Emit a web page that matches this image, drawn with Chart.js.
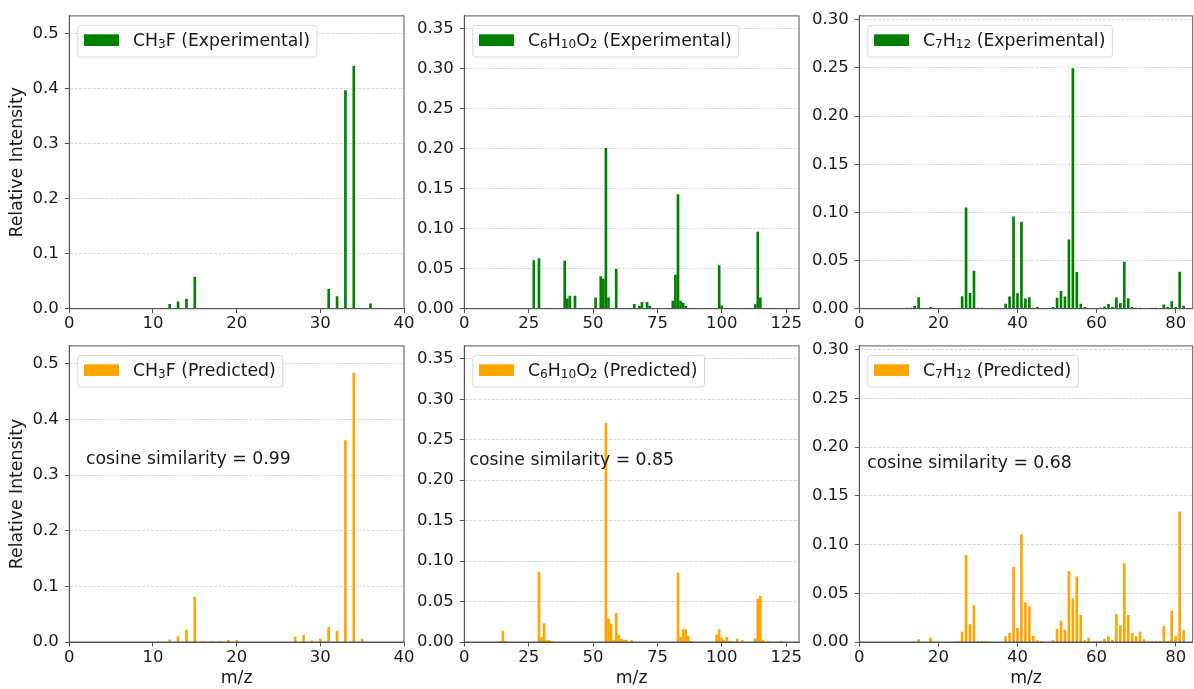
<!DOCTYPE html>
<html><head><meta charset="utf-8">
<script src="https://cdn.jsdelivr.net/npm/chart.js@4.4.0/dist/chart.umd.min.js"></script>
<style>
html,body{margin:0;padding:0;background:#fff;}
body{width:1194px;height:689px;overflow:hidden;position:relative;}
.c{position:absolute;}
</style>
</head><body>
<div id="root"></div>
<script>
// ---------- data ----------
const legendLabels = [
  'CH₃F (Experimental)', 'C₆H₁₀O₂ (Experimental)', 'C₇H₁₂ (Experimental)',
  'CH₃F (Predicted)', 'C₆H₁₀O₂ (Predicted)', 'C₇H₁₂ (Predicted)'
];
const cosineLabels = ['0.99', '0.85', '0.68'];

const mzCH3FExp  = [12,13,14,15,31,32,33,34,36];
const intCH3FExp = [0.008,0.0126,0.0173,0.0574,0.0353,0.022,0.3965,0.441,0.009];
const mzCH3FPred  = [12,13,14,15,16,17,18,19,20,27,28,29,30,31,32,33,34,35];
const intCH3FPred = [0.004,0.0096,0.0216,0.0808,0.001,0.001,0.001,0.003,0.003,0.009,0.012,0.002,0.0054,0.0257,0.0198,0.3617,0.483,0.0054];

const mzC6Exp  = [27,29,39,40,41,43,51,53,54,55,56,59,66,68,69,71,72,81,82,83,84,85,86,99,100,113,114,115];
const intC6Exp = [0.0603,0.0628,0.0595,0.0124,0.0157,0.0157,0.0136,0.040,0.037,0.2004,0.0136,0.0496,0.0054,0.003,0.008,0.008,0.003,0.0095,0.042,0.1426,0.0095,0.007,0.003,0.054,0.0037,0.005,0.0959,0.0136];
const mzC6Pred  = [14,15,16,29,30,31,32,33,34,55,56,57,58,59,60,61,62,63,65,83,84,85,86,87,88,98,99,100,101,102,103,104,106,108,113,114,115,116,118,123];
const intC6Pred = [0.0008,0.0136,0.0008,0.0864,0.0054,0.0227,0.0017,0.0017,0.0008,0.2702,0.0285,0.0223,0.0017,0.0355,0.0083,0.0033,0.0025,0.0025,0.0017,0.0855,0.0054,0.0153,0.0153,0.0074,0.0008,0.0087,0.0149,0.005,0.0017,0.0058,0.0008,0.0008,0.0037,0.0017,0.0041,0.0533,0.0566,0.0025,0.0008,0.0008];

const mzC7Exp  = [12,13,14,15,18,25,26,27,28,29,30,31,37,38,39,40,41,42,43,44,45,49,50,51,52,53,54,55,56,57,61,62,63,64,65,66,67,68,69,70,71,74,75,77,78,79,80,81,82];
const intC7Exp = [0.0007,0.0007,0.0024,0.0116,0.0014,0.0007,0.0127,0.1048,0.016,0.039,0.0007,0.0007,0.0048,0.0123,0.0955,0.0158,0.090,0.0103,0.0116,0.0007,0.0014,0.0014,0.011,0.018,0.0123,0.0716,0.2493,0.0377,0.0048,0.0014,0.0007,0.002,0.0045,0.0014,0.0113,0.0055,0.0483,0.0106,0.0014,0.0007,0.0007,0.0007,0.0007,0.0041,0.0014,0.0075,0.0014,0.038,0.0027];
const mzC7Pred  = [15,18,25,26,27,28,29,30,31,32,37,38,39,40,41,42,43,44,45,46,49,50,51,52,53,54,55,56,57,58,60,61,62,63,64,65,66,67,68,69,70,71,72,73,74,75,76,77,78,79,80,81,82];
const intC7Pred = [0.0024,0.0041,0.0007,0.0103,0.089,0.0178,0.0373,0.0007,0.0007,0.0007,0.0055,0.0092,0.0767,0.0144,0.11,0.0404,0.036,0.0062,0.0014,0.0007,0.0014,0.013,0.0216,0.0123,0.0723,0.0442,0.0668,0.0274,0.0014,0.0041,0.0007,0.0007,0.0027,0.0055,0.002,0.0284,0.0168,0.0805,0.0274,0.0092,0.0058,0.0103,0.0024,0.0007,0.0007,0.0007,0.0007,0.0158,0.0007,0.0318,0.0055,0.1336,0.0116];

const expColor = '#008000';
const predColor = '#FFA500';

// ---------- layout (config, not data) ----------
const cols = [
  {cl:0,   cr:440,  al:69.3,  ar:404,    xmax:40,   xstep:10, ymax:0.532, ystep:0.1,  dec:1},
  {cl:404, cr:830,  al:464.3, ar:799,    xmax:130,  xstep:25, ymax:0.366, ystep:0.05, dec:2},
  {cl:800, cr:1194, al:859.3, ar:1192.7, xmax:84.3, xstep:20, ymax:0.304, ystep:0.05, dec:2}
];
const rows = [
  {rt:0,   rb:330, at:12.7,  ab:308.7},
  {rt:330, rb:689, at:345.7, ab:642}
];
const panelData = [
  [mzCH3FExp, intCH3FExp], [mzC6Exp, intC6Exp], [mzC7Exp, intC7Exp],
  [mzCH3FPred, intCH3FPred], [mzC6Pred, intC6Pred], [mzC7Pred, intC7Pred]
];
const cosBaseline = [118.3, 119.2, 122];

const FONT = 'DejaVu Sans';
const TXT = '#1a1a1a';
const SPINE = '#555';
const SUBS = '₀₁₂₃₄₅₆₇₈₉';

function drawRich(ctx, text, x, y, size, doDraw) {
  const runs = [];
  for (const ch of text) {
    const si = SUBS.indexOf(ch);
    const sub = si >= 0;
    const c = sub ? String(si) : ch;
    if (runs.length && runs[runs.length-1].sub === sub) runs[runs.length-1].t += c;
    else runs.push({sub, t:c});
  }
  let cx = x;
  for (const r of runs) {
    const s = r.sub ? size*0.7 : size;
    ctx.font = s + 'px "' + FONT + '"';
    if (doDraw) ctx.fillText(r.t, cx, r.sub ? y + size*0.15 : y);
    cx += ctx.measureText(r.t).width;
  }
  return cx - x;
}

const framePlugin = {
  id: 'frame',
  afterDatasetsDraw(chart) {
    const {ctx, chartArea: a} = chart;
    ctx.save();
    ctx.strokeStyle = SPINE;
    ctx.lineWidth = 1;
    ctx.strokeRect(a.left, a.top, a.right - a.left, a.bottom - a.top);
    ctx.restore();
  }
};

const annotPlugin = {
  id: 'annot',
  afterDraw(chart, args, opts) {
    const {ctx, chartArea: a} = chart;
    const ds = chart.data.datasets[0];
    const size = 17.3;
    ctx.save();
    ctx.textBaseline = 'alphabetic';
    ctx.textAlign = 'left';
    const tw = drawRich(ctx, ds.label, 0, 0, size, false);
    const bx = a.left + 8, by = a.top + 9, bh = 31.6, bw = tw + 55.7 + 6.5;
    ctx.beginPath();
    ctx.roundRect(bx + 0.5, by + 0.5, bw, bh, 3);
    ctx.fillStyle = 'rgba(255,255,255,0.8)';
    ctx.fill();
    ctx.strokeStyle = '#d6d6d6';
    ctx.lineWidth = 1;
    ctx.stroke();
    ctx.fillStyle = ds.backgroundColor;
    ctx.fillRect(bx + 6.7, by + 9.4, 35, 11.7);
    ctx.fillStyle = TXT;
    drawRich(ctx, ds.label, bx + 55.7, by + 21, size, true);
    if (opts.cos) {
      const xs = chart.scales.x.getPixelForValue(2);
      ctx.font = size + 'px "' + FONT + '"';
      ctx.fillText('cosine similarity = ' + opts.cos, xs, a.top + opts.base);
    }
    ctx.restore();
  }
};

Chart.defaults.font.family = FONT;
Chart.defaults.font.size = 16.5;
Chart.defaults.color = TXT;

const root = document.getElementById('root');
for (let r = 0; r < 2; r++) {
  for (let c = 0; c < 3; c++) {
    const idx = r*3 + c;
    const col = cols[c], row = rows[r];
    const W = col.cr - col.cl, H = row.rb - row.rt;
    const div = document.createElement('div');
    div.className = 'c';
    div.style.left = col.cl + 'px';
    div.style.top = row.rt + 'px';
    div.style.width = W + 'px';
    div.style.height = H + 'px';
    const cv = document.createElement('canvas');
    cv.width = W; cv.height = H;
    cv.style.width = W + 'px'; cv.style.height = H + 'px';
    div.appendChild(cv);
    root.appendChild(div);

    const yW = col.al - col.cl;
    const padR = W - (col.ar - col.cl);
    const padT = row.at - row.rt;
    const xH = row.rb - row.ab;
    const [mz, inten] = panelData[idx];
    const color = r === 0 ? expColor : predColor;

    new Chart(cv, {
      type: 'bar',
      data: {
        datasets: [{
          label: legendLabels[idx],
          data: mz.map((m, i) => ({x: m, y: inten[i]})),
          backgroundColor: color,
          borderWidth: 0,
          barThickness: 2
        }]
      },
      options: {
        responsive: false,
        animation: false,
        events: [],
        layout: {padding: {left: 0, right: padR, top: padT, bottom: 0}},
        plugins: {
          legend: {display: false},
          tooltip: {enabled: false},
          annot: {cos: r === 1 ? cosineLabels[c] : null, base: cosBaseline[c]}
        },
        scales: {
          x: {
            type: 'linear',
            min: 0, max: col.xmax,
            offset: false,
            afterFit: s => { s.height = xH; },
            ticks: {stepSize: col.xstep, includeBounds: false, padding: 1, color: TXT,
                    font: {size: 16.5}, maxRotation: 0, autoSkip: false,
                    callback: v => String(v)},
            grid: {display: true, offset: false, drawOnChartArea: false, drawTicks: true, tickLength: 4.5,
                   tickColor: SPINE, tickWidth: 1},
            border: {display: true, color: SPINE, width: 1},
            title: {display: r === 1, text: 'm/z', color: TXT, font: {size: 17.3},
                    padding: {top: 0, bottom: 0}}
          },
          y: {
            type: 'linear',
            min: 0, max: col.ymax,
            afterFit: s => { s.width = yW; },
            ticks: {stepSize: col.ystep, includeBounds: false, padding: 6, color: TXT,
                    font: {size: 16.5}, callback: v => Number(v).toFixed(col.dec)},
            grid: {display: true, offset: false, color: '#cfcfcf', lineWidth: 0.8, drawTicks: true,
                   tickLength: 4.5, tickColor: SPINE, tickWidth: 1},
            border: {display: true, color: SPINE, width: 1, dash: [3, 1.5]},
            title: {display: c === 0, text: 'Relative Intensity', color: TXT,
                    font: {size: 17.3}, padding: {top: 7.5, bottom: 0}}
          }
        }
      },
      plugins: [framePlugin, annotPlugin]
    });
  }
}
</script>
</body></html>
